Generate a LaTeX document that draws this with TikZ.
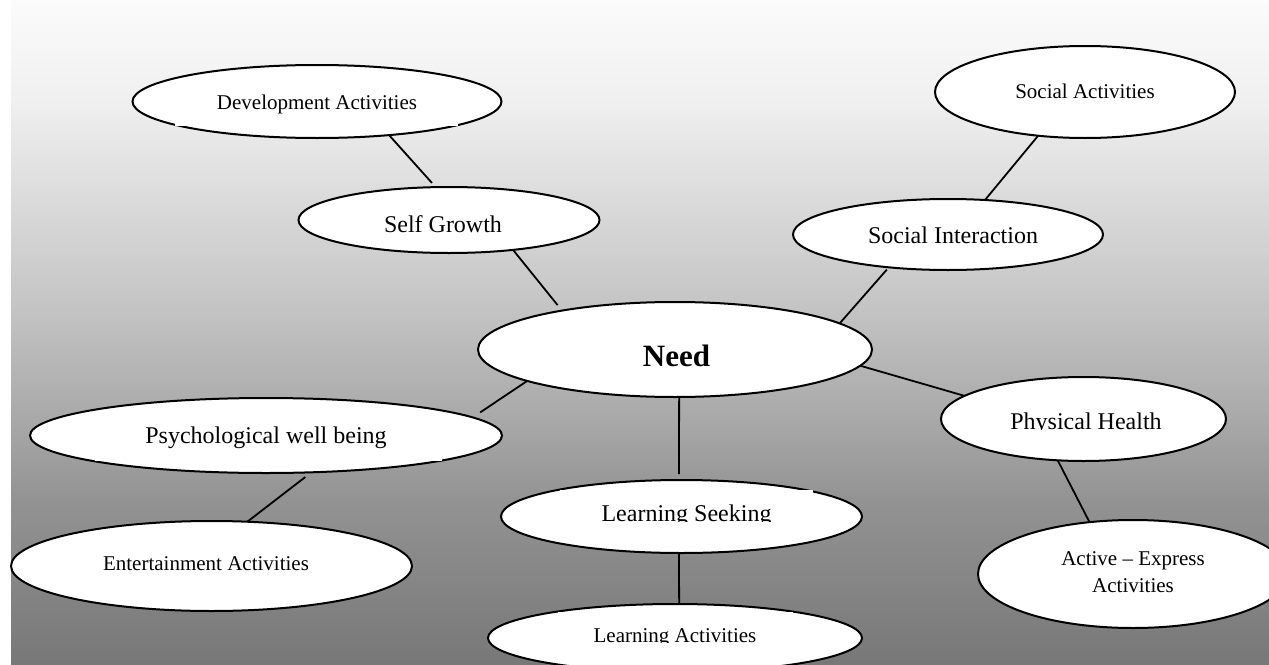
\documentclass[tikz,border=0pt]{standalone}
\usepackage{fontspec}
\setmainfont{Liberation Serif}
\usetikzlibrary{shapes.geometric}

% background fade, light at the top and darker grey at the bottom
\definecolor{bgA}{gray}{0.47}
\definecolor{bgB}{gray}{0.575}
\definecolor{bgC}{gray}{0.66}
\definecolor{bgD}{gray}{0.775}
\definecolor{bgE}{gray}{0.94}
\definecolor{bgF}{gray}{0.985}
\pgfdeclareverticalshading{bgfade}{100bp}{color(0bp)=(bgA); color(25bp)=(bgA); color(37.35bp)=(bgB); color(43.37bp)=(bgC); color(52.41bp)=(bgD); color(67.47bp)=(bgE); color(75bp)=(bgF); color(100bp)=(bgF)}

\begin{document}
\begin{tikzpicture}[x=0.5pt,y=-0.5pt,
  bubble/.style={ellipse, draw=black, fill=white, line width=1pt, inner sep=0pt, outer sep=0pt},
  textbox/.style={fill=white, draw=none},
  label/.style={anchor=base, inner sep=0pt},
  small/.style={label, font=\fontsize{10.5}{13.5}\selectfont},
  large/.style={label, font=\fontsize{12}{14}\selectfont},
  link/.style={draw=black, line width=0.9pt}]
\useasboundingbox (0,0) rectangle (1269,664);
\clip (0,0) rectangle (1269,664);
\fill[white] (0,0) rectangle (1269,664);
\shade[shading=bgfade] (11,0) rectangle (1269,664);

% ellipse outlines
\node[bubble, minimum width=184.5pt, minimum height=36.5pt] (dev) at (317,101.5) {};
\node[bubble, minimum width=150pt, minimum height=46pt] (socact) at (1085,92) {};
\node[bubble, minimum width=200.5pt, minimum height=45pt] (ent) at (211.5,566) {};
\node[bubble, minimum width=187pt, minimum height=34pt] (la) at (675,638) {};
\node[bubble, minimum width=155pt, minimum height=54pt] (act) at (1133,574) {};
\node[bubble, minimum width=150.5pt, minimum height=33pt] (self) at (449,220) {};
\node[bubble, minimum width=155pt, minimum height=35.5pt] (socint) at (948,234.5) {};
\node[bubble, minimum width=236pt, minimum height=37.5pt] (psych) at (266,435.5) {};
\node[bubble, minimum width=142.5pt, minimum height=42pt] (phys) at (1083.5,419) {};
\node[bubble, minimum width=180.5pt, minimum height=36.5pt] (ls) at (681.5,516.5) {};
\node[bubble, minimum width=197pt, minimum height=47.5pt] (need) at (675,349.5) {};

% white text frames that nick the outlines
\fill[textbox] (175,79.5) rectangle (458,125.5);
\fill[textbox] (95,412) rectangle (442,461);
\fill[textbox] (560,489.5) rectangle (813,522);
\fill[textbox] (558,611.5) rectangle (793,642);

% labels
\node[small] (devtxt) at ([yshift=-3.75pt]dev.center) {Development Activities};
\node[small] (socacttxt) at ([yshift=-3pt]socact.center) {Social Activities};
\node[small] (enttxt) at ([xshift=-2.75pt,yshift=-2pt]ent.center) {Entertainment Activities};
\node[large] (selftxt) at ([xshift=-3pt,yshift=-6pt]self.center) {Self Growth};
\node[large] (psychtxt) at ([yshift=-3.75pt]psych.center) {Psychological well being};
\node[label, font=\fontsize{15.5}{18}\selectfont\bfseries] (needtxt) at ([xshift=0.75pt,yshift=-8.25pt]need.center) {Need};
\node[small] (acttxta) at ([yshift=4.5pt]act.center) {Active -- Express};
\begin{scope}
  \clip (850,200) rectangle (1060,243.5);
  \node[large] (socinttxt) at ([xshift=2.5pt,yshift=-4.5pt]socint.center) {Social Interaction};
\end{scope}
\begin{scope}
  \clip (990,380) rectangle (1180,429);
  \node[large] (phystxt) at ([xshift=1.25pt,yshift=-5pt]phys.center) {Physical Health};
\end{scope}
\begin{scope}
  \clip (560,489.5) rectangle (813,521.5);
  \node[large] (lstxt) at ([xshift=2.5pt,yshift=-2.5pt]ls.center) {Learning Seeking};
\end{scope}
\begin{scope}
  \clip (558,611.5) rectangle (793,642);
  \node[small] (latxt) at ([yshift=-2pt]la.center) {Learning Activities};
\end{scope}
\begin{scope}
  \clip (1050,540) rectangle (1250,592);
  \node[small] (acttxtb) at ([yshift=-9pt]act.center) {Activities};
\end{scope}

% connectors
\draw[link, shorten >=2.8pt] (dev.-25) -- (self.112);
\draw[link, shorten >=3.5pt] (self.-25) -- (need.161);
\draw[link] (socact.-137) -- (socint.43);
\draw[link, shorten <=1.5pt] (socint.-151) -- (need.9);
\draw[link, shorten >=4.5pt] (need.-168) -- (psych.5);
\draw[link, shorten <=3.9pt] (psych.-39) -- (ent.51);
\draw[link] (need.-5) -- (phys.169);
\draw[link] (phys.-122) -- (act.130);
\draw[link, shorten >=3pt] (need.-85) -- (ls.94);
\draw[link] (ls.-94) -- (la.83);
\end{tikzpicture}
\end{document}
